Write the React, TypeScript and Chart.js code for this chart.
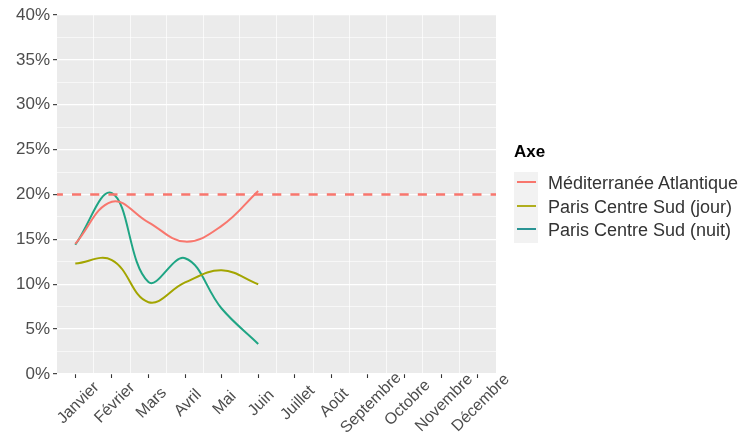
import React, { useEffect, useRef } from "react";
import { Chart, registerables } from "chart.js";

Chart.register(...registerables);

const months = ["Janvier", "Février", "Mars", "Avril", "Mai", "Juin", "Juillet", "Août", "Septembre", "Octobre", "Novembre", "Décembre"];
const seriesNames = ["Méditerranée Atlantique", "Paris Centre Sud (jour)", "Paris Centre Sud (nuit)"];
const mediterraneeAtlantique = [14.5, 19.2, 16.9, 14.75, 16.5, 20.4];
const parisCentreSudJour = [12.3, 12.7, 8.0, 10.2, 11.55, 10.0];
const parisCentreSudNuit = [14.4, 20.15, 10.25, 12.9, 7.3, 3.35];
const thresholdValue = 20;
const yMajorTicks = [0, 5, 10, 15, 20, 25, 30, 35, 40];
const yMinorTicks = [2.5, 7.5, 12.5, 17.5, 22.5, 27.5, 32.5, 37.5];

const lineColors = ["#F8766D", "#A3A500", "#1FA584"];
const legendColors = ["#F8766D", "#B0AE1E", "#2A9494"];

const FONT = '"Liberation Sans", Arial, Helvetica, sans-serif';

const toPoints = (arr: number[]) => arr.map((v, i) => ({ x: i + 1, y: v }));

const bgPlugin = {
  id: "panelBg",
  beforeDraw(chart: any) {
    const { ctx, chartArea: a } = chart;
    ctx.save();
    ctx.fillStyle = "#EBEBEB";
    ctx.fillRect(a.left, a.top, a.right - a.left, a.bottom - a.top);
    ctx.restore();
  },
};

const hlinePlugin = {
  id: "hline",
  afterDatasetsDraw(chart: any) {
    const { ctx, chartArea: a, scales } = chart;
    const y = scales.y.getPixelForValue(thresholdValue);
    ctx.save();
    ctx.strokeStyle = "#F8766D";
    ctx.lineWidth = 2.4;
    ctx.setLineDash([9.1, 9.1]);
    ctx.lineDashOffset = 3.2;
    ctx.beginPath();
    ctx.moveTo(a.left, y);
    ctx.lineTo(a.right, y);
    ctx.stroke();
    ctx.restore();
  },
};

const xLabelsPlugin = {
  id: "xLabels",
  afterDraw(chart: any) {
    const { ctx, chartArea: a, scales } = chart;
    ctx.save();
    ctx.font = `16px ${FONT}`;
    ctx.fillStyle = "#4D4D4D";
    ctx.textAlign = "center";
    ctx.textBaseline = "middle";
    months.forEach((m, i) => {
      const px = scales.x.getPixelForValue(i + 1);
      ctx.save();
      ctx.translate(px + 3, a.bottom + 29);
      ctx.rotate(-Math.PI / 4);
      ctx.fillText(m, 0, 0);
      ctx.restore();
    });
    ctx.restore();
  },
};

export default function App() {
  const ref = useRef<HTMLCanvasElement | null>(null);

  useEffect(() => {
    if (!ref.current) return;
    const chart = new Chart(ref.current, {
      type: "line",
      data: {
        datasets: [
          { label: seriesNames[0], data: toPoints(mediterraneeAtlantique), borderColor: lineColors[0] },
          { label: seriesNames[1], data: toPoints(parisCentreSudJour), borderColor: lineColors[1] },
          { label: seriesNames[2], data: toPoints(parisCentreSudNuit), borderColor: lineColors[2] },
        ].map((d) => ({ ...d, borderWidth: 2, pointRadius: 0, tension: 0.4, fill: false })),
      },
      options: {
        animation: false,
        responsive: false,
        devicePixelRatio: 1,
        layout: { padding: { left: 0, top: 15, right: 246, bottom: 0 } },
        plugins: { legend: { display: false }, tooltip: { enabled: false } },
        scales: {
          x: {
            type: "linear",
            min: 0.5,
            max: 12.5,
            border: { display: false },
            afterBuildTicks: (s: any) => {
              const t: any[] = [];
              months.forEach((_, i) => t.push({ value: i + 1 }));
              for (let i = 1; i < months.length; i++) t.push({ value: i + 0.5 });
              s.ticks = t;
            },
            afterFit: (s: any) => {
              s.height = 64;
            },
            ticks: { display: false },
            grid: {
              color: (c: any) => (c.tick && Number.isInteger(c.tick.value) ? "rgba(0,0,0,0)" : "rgba(255,255,255,0.85)"),
              lineWidth: 0.8,
              tickColor: (c: any) => (c.tick && Number.isInteger(c.tick.value) ? "#333333" : "rgba(0,0,0,0)"),
              tickWidth: 1.1,
              tickLength: 4,
              drawTicks: true,
            },
          },
          y: {
            type: "linear",
            min: 0,
            max: 40,
            border: { display: false },
            afterBuildTicks: (s: any) => {
              s.ticks = [...yMajorTicks, ...yMinorTicks].sort((a, b) => a - b).map((v) => ({ value: v }));
            },
            afterFit: (s: any) => {
              s.width = 57;
            },
            ticks: {
              autoSkip: false,
              padding: 3,
              color: "#4D4D4D",
              font: { family: FONT, size: 17 },
              callback: (v: any) => (yMajorTicks.includes(Number(v)) ? `${v}%` : ""),
            },
            grid: {
              color: "#FFFFFF",
              lineWidth: (c: any) => (c.tick && yMajorTicks.includes(c.tick.value) ? 1.3 : 0.6),
              tickColor: (c: any) => (c.tick && yMajorTicks.includes(c.tick.value) ? "#333333" : "rgba(0,0,0,0)"),
              tickWidth: 1.1,
              tickLength: 4,
            },
          },
        },
      },
      plugins: [bgPlugin, hlinePlugin, xLabelsPlugin],
    } as any);
    return () => chart.destroy();
  }, []);

  const keyTops = [182, 206, 229];
  const textCenters = [184, 207.5, 230.5];

  return (
    <div style={{ position: "absolute", left: 0, top: 0, width: 742, height: 438, background: "#fff", overflow: "hidden" }}>
      <canvas ref={ref} width={742} height={438} style={{ width: 742, height: 438, display: "block" }} />
      <div
        style={{
          position: "absolute",
          left: 514,
          top: 142,
          height: 20,
          lineHeight: "20px",
          font: `bold 17px ${FONT}`,
          color: "#000",
        }}
      >
        Axe
      </div>
      <div style={{ position: "absolute", left: 514, top: 172, width: 24, height: 71, background: "#F2F2F2" }} />
      {seriesNames.map((n, i) => (
        <React.Fragment key={n}>
          <div
            style={{
              position: "absolute",
              left: 517,
              top: keyTops[i] - 1,
              width: 19,
              height: 2,
              background: legendColors[i],
            }}
          />
          <div
            style={{
              position: "absolute",
              left: 548,
              top: textCenters[i] - 11,
              height: 22,
              lineHeight: "22px",
              font: `18px ${FONT}`,
              color: "#333333",
              whiteSpace: "nowrap",
            }}
          >
            {n}
          </div>
        </React.Fragment>
      ))}
    </div>
  );
}
